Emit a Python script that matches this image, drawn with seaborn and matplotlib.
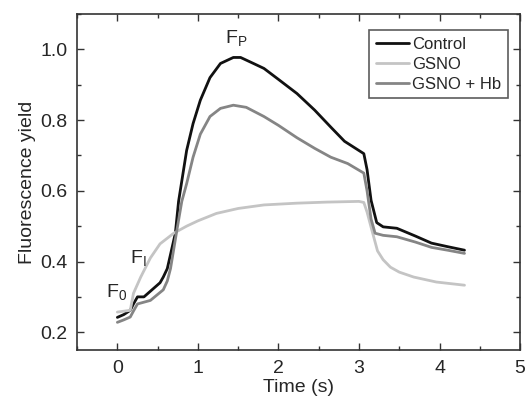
import matplotlib
matplotlib.use("Agg")
import matplotlib.pyplot as plt
import seaborn as sns
import pandas as pd
from matplotlib.ticker import MultipleLocator

sns.set_theme(style="ticks")
plt.rcParams['font.family'] = ['Liberation Sans', 'DejaVu Sans']

# Control
t_ctrl = [0.0, 0.08, 0.16, 0.2, 0.25, 0.33, 0.42, 0.53, 0.57, 0.62, 0.66, 0.72, 0.76, 0.86, 0.94, 1.03,
          1.15, 1.28, 1.44, 1.53, 1.69, 1.82, 2.0, 2.23, 2.45, 2.65, 2.82, 3.06, 3.1, 3.15, 3.22,
          3.3, 3.47, 3.7, 3.9, 4.1, 4.31]
y_ctrl = [0.242, 0.25, 0.262, 0.28, 0.30, 0.30, 0.318, 0.34, 0.356, 0.38, 0.42, 0.48, 0.57, 0.714, 0.79, 0.856,
          0.92, 0.96, 0.977, 0.977, 0.96, 0.946, 0.915, 0.875, 0.828, 0.78, 0.74, 0.705, 0.66, 0.573, 0.51,
          0.498, 0.494, 0.472, 0.452, 0.442, 0.432]

# GSNO
t_gsno = [0.0, 0.16, 0.2, 0.29, 0.41, 0.53, 0.7, 0.86, 1.0, 1.23, 1.5, 1.82, 2.23, 2.6, 3.0, 3.06,
          3.1, 3.15, 3.23, 3.3, 3.39, 3.5, 3.68, 3.96, 4.31]
y_gsno = [0.257, 0.262, 0.31, 0.356, 0.41, 0.45, 0.48, 0.50, 0.515, 0.536, 0.55, 0.56, 0.565, 0.568, 0.57, 0.567,
          0.54, 0.497, 0.43, 0.405, 0.384, 0.37, 0.356, 0.342, 0.333]

# GSNO + Hb
t_hb = [0.0, 0.08, 0.16, 0.2, 0.25, 0.41, 0.57, 0.62, 0.66, 0.74, 0.8, 0.86, 0.94, 1.03, 1.15, 1.28,
        1.44, 1.6, 1.82, 2.0, 2.23, 2.45, 2.65, 2.86, 3.06, 3.1, 3.15, 3.2, 3.3, 3.47, 3.7, 3.9, 4.1, 4.31]
y_hb = [0.228, 0.235, 0.243, 0.26, 0.28, 0.29, 0.32, 0.345, 0.38, 0.49, 0.57, 0.62, 0.695, 0.76, 0.81, 0.833,
        0.842, 0.836, 0.81, 0.785, 0.75, 0.72, 0.695, 0.677, 0.65, 0.60, 0.52, 0.48, 0.474, 0.47, 0.455, 0.44, 0.432, 0.423]

labels = ["Control", "GSNO", "GSNO + Hb"]
colors = ["#111111", "#c4c4c4", "#858585"]

df = pd.concat([
    pd.DataFrame({"t": t_ctrl, "y": y_ctrl, "series": labels[0]}),
    pd.DataFrame({"t": t_gsno, "y": y_gsno, "series": labels[1]}),
    pd.DataFrame({"t": t_hb, "y": y_hb, "series": labels[2]}),
])

fig = plt.figure(figsize=(5.28, 3.99), dpi=100)
ax = fig.add_axes([0.146, 0.123, 0.839, 0.842])
sns.lineplot(data=df, x="t", y="y", hue="series", hue_order=labels,
             palette=dict(zip(labels, colors)), linewidth=2, ax=ax, sort=False,
             estimator=None)

ax.set_xlim(-0.5, 5)
ax.set_ylim(0.15, 1.1)
ax.xaxis.set_major_locator(MultipleLocator(1))
ax.xaxis.set_minor_locator(MultipleLocator(0.5))
ax.yaxis.set_major_locator(MultipleLocator(0.2))
ax.yaxis.set_minor_locator(MultipleLocator(0.1))
ax.tick_params(which="both", direction="in", top=True, right=True, labelsize=14, color="#333333")
ax.tick_params(which="major", length=5, width=1, pad=7)
ax.tick_params(which="minor", length=3, width=1)
ax.set_yticks([0.2, 0.4, 0.6, 0.8, 1.0])
ax.set_yticklabels(["0.2", "0.4", "0.6", "0.8", "1.0"])
for s in ax.spines.values():
    s.set_color("#333333")
    s.set_linewidth(1.2)

ax.set_xlabel("Time (s)", fontsize=14, labelpad=2)
ax.set_ylabel("Fluorescence yield", fontsize=14, labelpad=3)

ax.text(1.34, 1.017, r"F$_\mathregular{P}$", fontsize=14, ha="left", va="baseline")
ax.text(0.16, 0.395, r"F$_\mathregular{I}$", fontsize=14, ha="left", va="baseline")
ax.text(-0.136, 0.299, r"F$_\mathregular{0}$", fontsize=14, ha="left", va="baseline")

leg = ax.legend(loc="upper right", bbox_to_anchor=(0.973, 0.952), frameon=True, fontsize=12,
                fancybox=False, handlelength=2.0, handletextpad=0.2, borderpad=0.4,
                labelspacing=0.3, borderaxespad=0)
leg.get_frame().set_edgecolor("#333333")
leg.get_frame().set_linewidth(1.2)
leg.set_title(None)

fig.savefig("out.png", dpi=100)
